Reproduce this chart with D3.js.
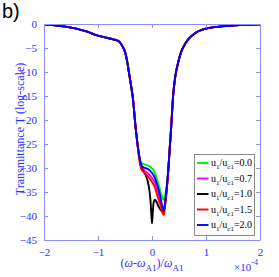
<!DOCTYPE html>
<html><head><meta charset="utf-8">
<script src="https://cdn.jsdelivr.net/npm/d3@7/dist/d3.min.js"></script>
<style>body{margin:0;background:#fff}svg{display:block}</style>
</head><body>
<svg id="c" width="279" height="277"></svg>
<script>
// ---- data (x in units of 1e-4, y = log-scale transmittance) ----
const wingLeftX  = [-2.0,-1.8,-1.6,-1.4,-1.2,-1.06,-0.87,-0.72,-0.62,-0.56,-0.5,-0.46,-0.42,-0.39,-0.35,-0.31,-0.27];
const wingLeftY  = [-0.05,-0.25,-0.55,-0.95,-1.6,-2.2,-2.8,-3.2,-3.55,-4.4,-5.8,-7.8,-10.6,-12.7,-15.8,-20.8,-24.9];
const wingRightX = [0.33,0.36,0.39,0.43,0.48,0.54,0.6,0.67,0.8,1.0,1.2,1.44,1.7,2.0];
const wingRightY = [-25.6,-20.7,-15.1,-11.0,-8.2,-5.8,-4.4,-3.2,-1.9,-0.95,-0.6,-0.35,-0.18,-0.06];
const coreX      = [-0.25,-0.2,-0.15,-0.1,-0.05,0.0,0.05,0.1,0.15,0.2,0.22,0.25,0.3];
const greenCore  = [-26.5,-28.9,-29.2,-29.4,-29.6,-30.1,-30.9,-32.6,-34.6,-36.4,-36.7,-35.3,-30.5];
const magentaCore= [-26.6,-29.6,-30.4,-30.9,-31.4,-32.1,-33.0,-34.7,-36.8,-38.8,-39.1,-36.8,-30.7];
const redCore    = [-27.0,-30.2,-30.9,-31.5,-32.1,-32.9,-33.9,-35.8,-37.5,-39.5,-39.8,-37.2,-30.8];
const blueCore   = [-26.5,-29.3,-29.9,-30.1,-30.4,-31.0,-32.0,-33.6,-35.8,-38.3,-38.7,-36.5,-30.6];
const blackCoreX = [-0.25,-0.2,-0.15,-0.1,-0.06,-0.03,-0.01,0.0,0.01,0.03,0.055,0.08,0.12,0.17,0.21,0.25,0.3];
const blackCore  = [-26.7,-29.9,-30.8,-32.0,-33.8,-36.5,-40.0,-41.5,-40.0,-37.2,-36.6,-37.0,-38.0,-38.9,-39.2,-36.8,-30.7];
const legendLabels = ["0.0","0.7","1.0","1.5","2.0"];
const xTicks = [-2,-1,0,1,2];
const yTicks = [0,-5,-10,-15,-20,-25,-30,-35,-40,-45];

function join(cx, cy){
  const pts = [];
  wingLeftX.forEach((x,i)=>pts.push([x,wingLeftY[i]]));
  cx.forEach((x,i)=>pts.push([x,cy[i]]));
  wingRightX.forEach((x,i)=>pts.push([x,wingRightY[i]]));
  return pts;
}
const series = [
  {label:legendLabels[0], color:"#00ee00", pts:join(coreX,greenCore)},
  {label:legendLabels[1], color:"#ff00ff", pts:join(coreX,magentaCore)},
  {label:legendLabels[2], color:"#000000", pts:join(blackCoreX,blackCore)},
  {label:legendLabels[3], color:"#ff0000", pts:join(coreX,redCore)},
  {label:legendLabels[4], color:"#0000ff", pts:join(coreX,blueCore)}
];

const svg = d3.select("#c");
const L=44, R=260, T=24, B=240;
const x = d3.scaleLinear().domain([-2,2]).range([L,R]);
const y = d3.scaleLinear().domain([-45,0]).range([B,T]);
const axisCol = "#8c8cff", txtCol = "#2f2fff";
const serif = "'Liberation Serif','DejaVu Serif',serif";

svg.append("defs").append("clipPath").attr("id","clip")
  .append("rect").attr("x",L).attr("y",T).attr("width",R-L).attr("height",B-T);

// lines
const line = d3.line().x(d=>x(d[0])).y(d=>y(d[1])).curve(d3.curveMonotoneX);
const g = svg.append("g").attr("clip-path","url(#clip)");
series.forEach(s=>{
  g.append("path").attr("d",line(s.pts)).attr("fill","none")
   .attr("stroke",s.color).attr("stroke-width",1.9).attr("stroke-linejoin","round");
});

// axes (box with inward ticks)
function styleAxis(sel){
  sel.select(".domain").attr("stroke",axisCol);
  sel.selectAll(".tick line").attr("stroke",axisCol);
  sel.selectAll(".tick text").attr("fill",txtCol).attr("font-family",serif).attr("font-size",11);
}
const xb = svg.append("g").attr("transform",`translate(0,${B})`)
  .call(d3.axisBottom(x).tickValues(xTicks).tickSizeInner(-4).tickSizeOuter(0).tickPadding(8).tickFormat(d3.format("d")));
styleAxis(xb);
const xt = svg.append("g").attr("transform",`translate(0,${T})`)
  .call(d3.axisTop(x).tickValues(xTicks).tickSizeInner(-4).tickSizeOuter(0).tickFormat(""));
styleAxis(xt);
const yl = svg.append("g").attr("transform",`translate(${L},0)`)
  .call(d3.axisLeft(y).tickValues(yTicks).tickSizeInner(-4).tickSizeOuter(0).tickPadding(7).tickFormat(d3.format("d")));
styleAxis(yl);
const yr = svg.append("g").attr("transform",`translate(${R},0)`)
  .call(d3.axisRight(y).tickValues(yTicks).tickSizeInner(-4).tickSizeOuter(0).tickFormat(""));
styleAxis(yr);
xb.selectAll(".tick text").attr("dy","0.71em");

// titles
svg.append("text").attr("x",2).attr("y",18).attr("font-family","'Liberation Sans',Arial,sans-serif")
  .attr("font-size",20).attr("fill","#000").text("b)");

svg.append("text").attr("transform","translate(24,129) rotate(-90)").attr("text-anchor","middle")
  .attr("font-family",serif).attr("font-size",12).attr("fill",txtCol).text("Transmittance T (log-scale)");

const xl = svg.append("text").attr("x",152).attr("y",267).attr("text-anchor","middle")
  .attr("font-family",serif).attr("font-size",12).attr("fill",txtCol);
xl.append("tspan").text("(");
xl.append("tspan").attr("font-style","italic").text("ω");
xl.append("tspan").text("-");
xl.append("tspan").attr("font-style","italic").text("ω");
xl.append("tspan").attr("font-size",9).attr("dy",4).text("A1");
xl.append("tspan").attr("dy",-4).text(")/");
xl.append("tspan").attr("font-style","italic").text("ω");
xl.append("tspan").attr("font-size",9).attr("dy",4).text("A1");

const ex = svg.append("text").attr("x",234).attr("y",271).attr("font-family",serif)
  .attr("font-size",11).attr("fill",txtCol);
ex.append("tspan").text("×10");
ex.append("tspan").attr("font-size",8).attr("dy",-6).text("-4");

// legend
const lg = svg.append("g");
lg.append("rect").attr("x",194.5).attr("y",154.5).attr("width",60).attr("height",81)
  .attr("fill","#fff").attr("stroke","#8a8a8a").attr("stroke-width",1);
series.forEach((s,i)=>{
  const yy = 163 + i*15.5;
  lg.append("line").attr("x1",197).attr("x2",208.5).attr("y1",yy).attr("y2",yy)
    .attr("stroke",s.color).attr("stroke-width",1.9);
  const t = lg.append("text").attr("x",211).attr("y",yy+3).attr("font-family",serif)
    .attr("font-size",10).attr("fill","#000");
  t.append("tspan").text("u");
  t.append("tspan").attr("font-size",7).attr("dy",3).text("1");
  t.append("tspan").attr("dy",-3).text("/u");
  t.append("tspan").attr("font-size",7).attr("dy",3).text("c1");
  t.append("tspan").attr("dy",-3).text("="+s.label);
});
</script>
</body></html>
